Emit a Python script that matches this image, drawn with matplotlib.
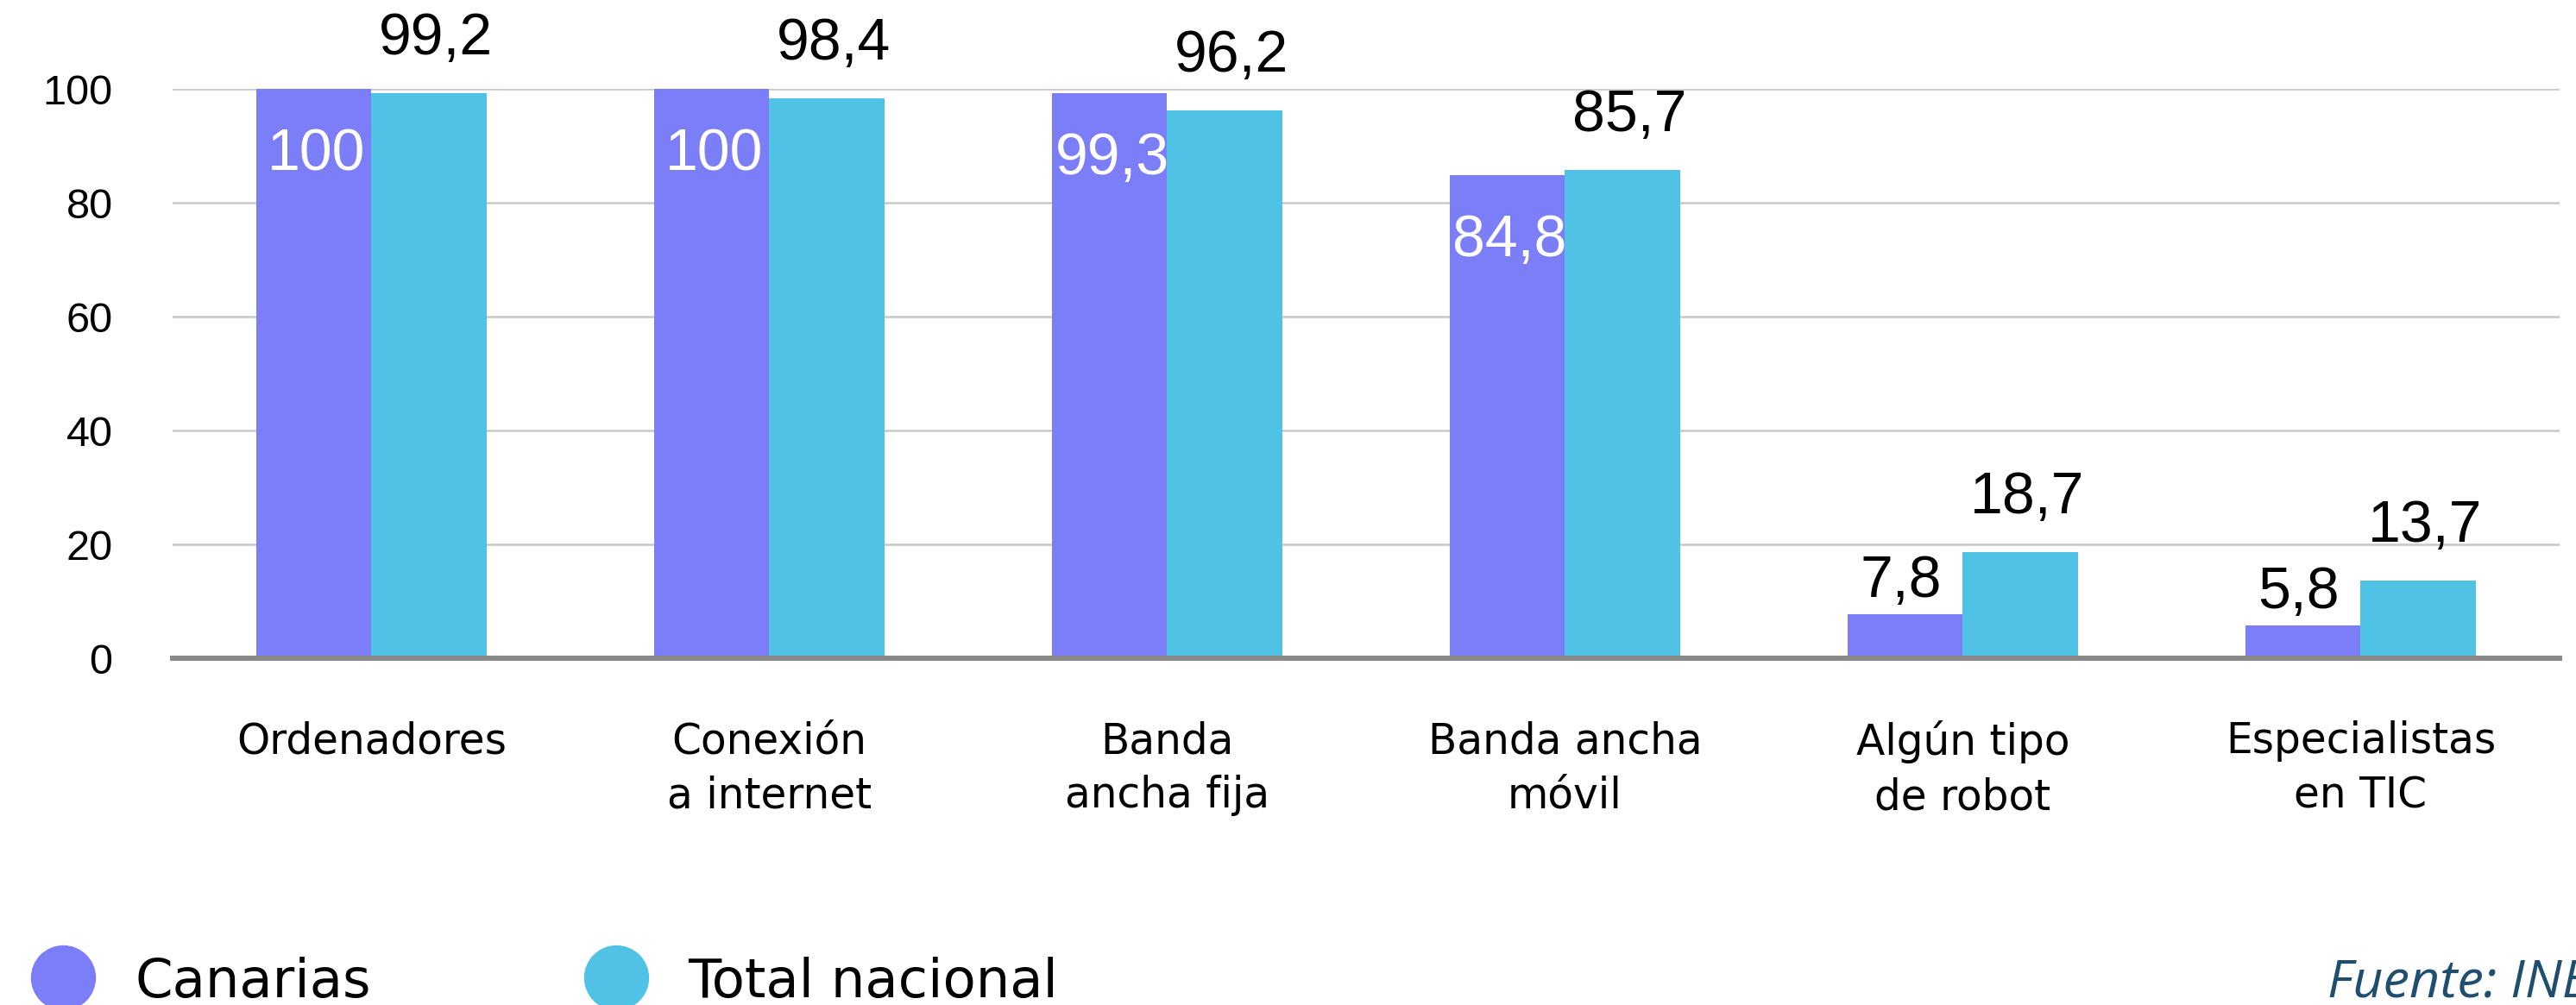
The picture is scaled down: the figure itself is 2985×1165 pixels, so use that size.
import numpy as np
import matplotlib
matplotlib.use("Agg")
import matplotlib.pyplot as plt
from matplotlib.lines import Line2D

# datos
categorias = ["Ordenadores", "Conexión\na internet", "Banda\nancha fija",
              "Banda ancha\nmóvil", "Algún tipo\nde robot", "Especialistas\nen TIC"]
canarias = [100, 100, 99.3, 84.8, 7.8, 5.8]
total_nacional = [99.2, 98.4, 96.2, 85.7, 18.7, 13.7]
series = ["Canarias", "Total nacional"]
yticks = [0, 20, 40, 60, 80, 100]

col_can = "#7B7EF6"
col_tot = "#50C2E6"
PX = 0.72  # puntos por pixel a dpi 100


def fmt(v):
    return f"{v:g}".replace(".", ",")


fig = plt.figure(figsize=(29.85, 11.65), dpi=100)
ax = fig.add_axes([0.0670, 0.34506, 0.9266, 0.5665])

x = np.arange(len(categorias))
w = 0.289
ax.bar(x - w / 2, canarias, width=w, color=col_can, zorder=2)
ax.bar(x + w / 2, total_nacional, width=w, color=col_tot, zorder=2)

ax.set_xlim(-0.5, 5.5)
ax.set_ylim(0, 100)
ax.set_yticks(yticks)
ax.set_yticklabels([str(t) for t in yticks], fontsize=35, family="Liberation Sans")
ax.tick_params(axis="y", length=0, pad=50)
ax.set_xticks(x)
ax.set_xticklabels(categorias, fontsize=35, family="DejaVu Sans", linespacing=1.4)
ax.tick_params(axis="x", length=0, pad=52)

ax.set_axisbelow(True)
ax.yaxis.grid(True, color="#C8C8C8", lw=1.8)
for s in ["top", "right", "left"]:
    ax.spines[s].set_visible(False)
ax.spines["bottom"].set_color("#888888")
ax.spines["bottom"].set_linewidth(4.3)
ax.spines["bottom"].set_zorder(3)

# etiquetas de valores
fs_val = 49
for xi, v in zip(x, canarias):
    if v > 50:
        ax.annotate(fmt(v), (xi - w / 2, v), xytext=(2, -94 * PX), textcoords="offset points",
                    ha="center", va="baseline", fontsize=fs_val, color="white",
                    family="Liberation Sans", zorder=4)
    else:
        ax.annotate(fmt(v), (xi - w / 2, v), xytext=(-4, 20 * PX), textcoords="offset points",
                    ha="center", va="baseline", fontsize=fs_val, color="black",
                    family="Liberation Sans", zorder=4)
for xi, v in zip(x, total_nacional):
    ax.annotate(fmt(v), (xi + w / 2, v), xytext=(6, 45 * PX), textcoords="offset points",
                ha="center", va="baseline", fontsize=fs_val, color="black",
                family="Liberation Sans", annotation_clip=False, zorder=4)

# leyenda manual
H = 1165.0
Wf = 2985.0
for (cx, tx), name, col in zip([(73, 156), (714, 797)], series, [col_can, col_tot]):
    fig.add_artist(Line2D([cx / Wf], [1 - 1133 / H], marker="o", markersize=74 * PX,
                          color=col, linestyle="none", transform=fig.transFigure))
    fig.text(tx / Wf, 1 - 1156 / H, name, fontsize=45, family="DejaVu Sans",
             va="baseline", ha="left")

fig.text(2697 / Wf, 1 - 1156 / H, "Fuente: INE", fontsize=44, family="Open Sans",
         style="italic", color="#1F4E6E", va="baseline", ha="left")

fig.savefig("out.png", dpi=100)
